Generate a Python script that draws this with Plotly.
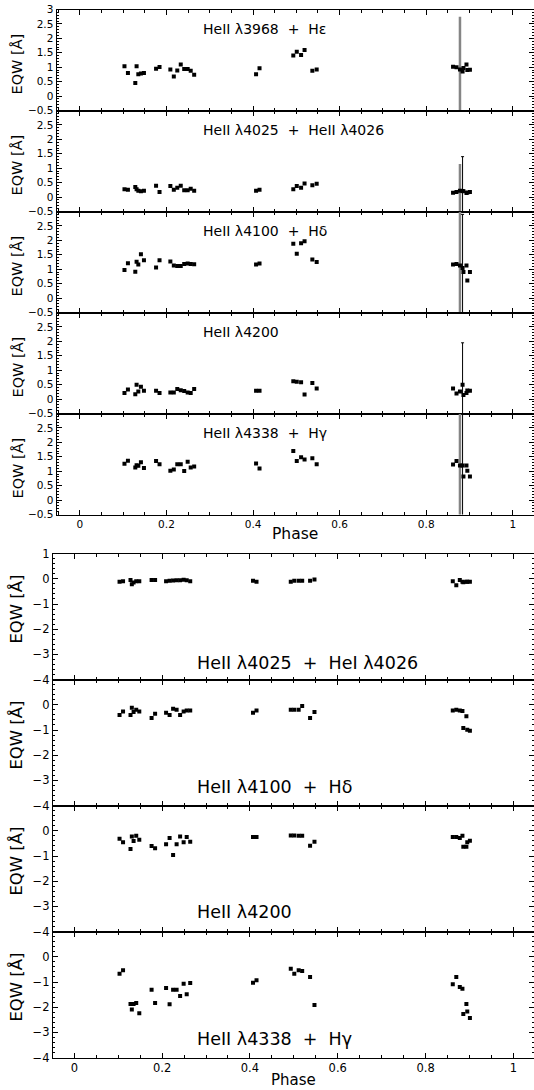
import plotly.graph_objects as go

# ---------------- data ----------------
PHASE = [0.103, 0.111, 0.128, 0.131, 0.135, 0.141, 0.148,
         0.176, 0.184,
         0.209, 0.217, 0.225, 0.233, 0.241, 0.249, 0.256, 0.264,
         0.407, 0.415,
         0.493, 0.501, 0.511, 0.519,
         0.537, 0.547,
         0.862, 0.870, 0.878, 0.884, 0.886, 0.893, 0.895, 0.901]

# upper figure (absorption EQW)
HE3968_HEPS = [1.035, 0.80, 0.45, 1.035, 0.76, 0.78, 0.80,
               0.95, 1.01,
               0.92, 0.68, 0.89, 1.09, 0.94, 0.94, 0.88, 0.74,
               0.76, 0.96,
               1.41, 1.54, 1.42, 1.60,
               0.88, 0.92,
               1.02, 1.00, 0.92, 0.85, 0.97, 1.09, 0.90, 0.91]
HE4025_HE4026 = [0.27, 0.25, 0.35, 0.27, 0.22, 0.20, 0.22,
                 0.39, 0.18,
                 0.38, 0.25, 0.32, 0.39, 0.24, 0.24, 0.29, 0.22,
                 0.22, 0.25,
                 0.27, 0.38, 0.32, 0.47,
                 0.41, 0.46,
                 0.15, 0.18, 0.22, 0.21, 0.20, 0.14, 0.16, 0.18]
HE4100_HD = [0.97, 1.21, 0.91, 1.26, 1.16, 1.52, 1.31,
             1.06, 1.31,
             1.27, 1.13, 1.11, 1.11, 1.18, 1.20, 1.18, 1.17,
             1.16, 1.20,
             1.88, 1.54, 1.90, 1.97,
             1.34, 1.25,
             1.16, 1.18, 1.13, 1.04, 0.90, 1.13, 0.61, 0.90]
HE4200 = [0.21, 0.33, 0.17, 0.50, 0.26, 0.43, 0.29,
          0.29, 0.21,
          0.23, 0.23, 0.35, 0.31, 0.28, 0.23, 0.21, 0.35,
          0.29, 0.29,
          0.62, 0.60, 0.58, 0.16,
          0.56, 0.37,
          0.37, 0.19, 0.26, 0.50, 0.14, 0.21, 0.30, 0.29]
HE4338_HG = [1.26, 1.36, 1.13, 1.21, 1.19, 1.31, 1.11,
             1.35, 1.24,
             1.02, 1.06, 1.24, 1.24, 1.01, 1.33, 1.13, 1.16,
             1.27, 1.09,
             1.70, 1.35, 1.48, 1.41,
             1.45, 1.24,
             1.23, 1.35, 1.20, 1.20, 0.82, 1.20, 1.02, 0.82]

# error bars (upper figure): index of point, error size
GRAY_ERR_IDX = 27
GRAY_ERR = [1.83, 0.93, 3.0, None, 3.0]
BLACK_ERR_IDX = 28
BLACK_ERR = [None, 1.19, 1.86, 1.45, 3.0]

# lower figure (emission EQW)
E4025_4026 = [-0.12, -0.10, -0.05, -0.22, -0.15, -0.10, -0.10,
              -0.05, -0.05,
              -0.10, -0.08, -0.07, -0.06, -0.06, -0.04, -0.06, -0.10,
              -0.08, -0.12,
              -0.12, -0.08, -0.08, -0.08,
              -0.08, -0.03,
              -0.10, -0.26, -0.05, -0.12, -0.14, -0.12, -0.12, -0.12]
E4100_HD = [-0.40, -0.27, -0.40, -0.12, -0.29, -0.20, -0.27,
            -0.52, -0.36,
            -0.32, -0.40, -0.16, -0.20, -0.40, -0.27, -0.23, -0.23,
            -0.32, -0.23,
            -0.20, -0.20, -0.20, -0.05,
            -0.52, -0.29,
            -0.23, -0.20, -0.23, -0.25, -0.92, -0.45, -0.99, -1.03]
E4200 = [-0.32, -0.45, -0.72, -0.23, -0.40, -0.20, -0.36,
         -0.60, -0.69,
         -0.53, -0.29, -0.96, -0.53, -0.23, -0.45, -0.25, -0.43,
         -0.25, -0.25,
         -0.19, -0.19, -0.20, -0.20,
         -0.59, -0.43,
         -0.25, -0.25, -0.29, -0.20, -0.63, -0.63, -0.45, -0.39]
E4338_HG = [-0.67, -0.53, -1.87, -2.09, -1.87, -1.83, -2.24,
            -1.31, -1.83,
            -1.24, -1.88, -1.31, -1.31, -1.56, -1.07, -1.49, -1.04,
            -1.03, -0.93,
            -0.47, -0.67, -0.53, -0.56,
            -0.80, -1.91,
            -1.09, -0.80, -1.20, -1.27, -2.27, -1.87, -2.17, -2.43]

NB = "\u00a0"
TOP_LABELS = ["HeII λ3968" + NB * 2 + "+" + NB * 2 + "Hε",
              "HeII λ4025" + NB * 2 + "+" + NB * 2 + "HeII λ4026",
              "HeII λ4100" + NB * 2 + "+" + NB * 2 + "Hδ",
              "HeII λ4200",
              "HeII λ4338" + NB * 2 + "+" + NB * 2 + "Hγ"]
BOT_LABELS = ["HeII λ4025" + NB * 2 + "+" + NB * 2 + "HeI λ4026",
              "HeII λ4100" + NB * 2 + "+" + NB * 2 + "Hδ",
              "HeII λ4200",
              "HeII λ4338" + NB * 2 + "+" + NB * 2 + "Hγ"]

TOP_SERIES = [HE3968_HEPS, HE4025_HE4026, HE4100_HD, HE4200, HE4338_HG]
BOT_SERIES = [E4025_4026, E4100_HD, E4200, E4338_HG]

X_TICKS = [0, 0.2, 0.4, 0.6, 0.8, 1]
X_TICKTEXT = ["0", "0.2", "0.4", "0.6", "0.8", "1"]
TOP_Y_TICKS = [-0.5, 0, 0.5, 1, 1.5, 2, 2.5, 3]
TOP_Y_TEXT = ["−0.5", "0", "0.5", "1", "1.5", "2", "2.5", "3"]
BOT_Y_TICKS = [-4, -3, -2, -1, 0, 1]
BOT_Y_TEXT = ["−4", "−3", "−2", "−1", "0", "1"]

# ---------------- layout geometry ----------------
W, H = 534, 1090
FONT = "DejaVu Sans"


def py(px):
    return 1 - px / H


fig = go.Figure()
layout = dict(template="none", width=W, height=H, margin=dict(l=0, r=0, t=0, b=0, pad=0),
              paper_bgcolor="white", plot_bgcolor="white", showlegend=False,
              font=dict(family=FONT, color="black"))
annotations = []

TOP_X_DOM = [56.5 / W, 1.0]
TOP_X_RANGE = [-0.054, 1.049]
BOT_X_DOM = [52.8 / W, 1.0]
BOT_X_RANGE = [-0.049, 1.047]


def add_axes(n, xdom, xrange, ydom, yrange, yticks, ytext, ydminor, show_x, fs):
    xa = dict(domain=xdom, range=xrange, anchor="y%d" % n, showgrid=False, zeroline=False,
              automargin=False,
              showline=True, linecolor="black", linewidth=1, mirror="ticks",
              ticks="inside", ticklen=5, tickwidth=1, tickcolor="black",
              tickvals=X_TICKS, ticktext=X_TICKTEXT, showticklabels=show_x,
              tickfont=dict(family=FONT, size=fs, color="black"),
              minor=dict(dtick=0.05, tick0=0, ticks="inside", ticklen=3, tickcolor="black", showgrid=False))
    ya = dict(domain=ydom, range=yrange, anchor="x%d" % n, showgrid=False, zeroline=False,
              automargin=False,
              showline=True, linecolor="black", linewidth=1, mirror="ticks",
              ticks="inside", ticklen=5, tickwidth=1, tickcolor="black",
              tickvals=yticks, ticktext=ytext,
              tickfont=dict(family=FONT, size=fs, color="black"),
              minor=dict(dtick=ydminor, tick0=0, ticks="inside", ticklen=2.5, tickcolor="black", showgrid=False))
    sfx = "" if n == 1 else str(n)
    layout["xaxis" + sfx] = xa
    layout["yaxis" + sfx] = ya


# upper figure
TOP_Y0 = 9.5
TOP_H = 101.0
for k, series in enumerate(TOP_SERIES):
    n = k + 1
    top = TOP_Y0 + TOP_H * k
    bot = top + TOP_H
    ticks = TOP_Y_TICKS if k == 0 else TOP_Y_TICKS[:-1]
    text = TOP_Y_TEXT if k == 0 else TOP_Y_TEXT[:-1]
    add_axes(n, TOP_X_DOM, TOP_X_RANGE, [py(bot), py(top)], [-0.5, 3.0], ticks, text, 0.1,
             k == len(TOP_SERIES) - 1, 10.5)
    xr, yr = "x%d" % n, "y%d" % n
    # error bars
    if GRAY_ERR[k] is not None:
        fig.add_trace(go.Scatter(x=[PHASE[GRAY_ERR_IDX]], y=[series[GRAY_ERR_IDX]], xaxis=xr, yaxis=yr,
                                 mode="markers", marker=dict(size=1, opacity=0),
                                 error_y=dict(type="data", array=[GRAY_ERR[k]], color="#858585",
                                              thickness=2.5, width=0)))
    if BLACK_ERR[k] is not None:
        fig.add_trace(go.Scatter(x=[PHASE[BLACK_ERR_IDX]], y=[series[BLACK_ERR_IDX]], xaxis=xr, yaxis=yr,
                                 mode="markers", marker=dict(size=1, opacity=0),
                                 error_y=dict(type="data", array=[BLACK_ERR[k]], color="black",
                                              thickness=1, width=1.5)))
    fig.add_trace(go.Scatter(x=PHASE, y=series, xaxis=xr, yaxis=yr, mode="markers",
                             marker=dict(symbol="square", size=4, color="black", line=dict(width=0))))
    annotations.append(dict(x=0.28, y=2.33, xref=xr, yref=yr, text=TOP_LABELS[k], showarrow=False,
                            xanchor="left", yanchor="middle", font=dict(family=FONT, size=14, color="black")))
    annotations.append(dict(x=17 / W, y=py((top + bot) / 2 + 4.5), xref="paper", yref="paper",
                            text="EQW [Å]", textangle=-90, showarrow=False, xanchor="center",
                            yanchor="middle", font=dict(family=FONT, size=14.5, color="black")))

annotations.append(dict(x=(TOP_X_DOM[0] + TOP_X_DOM[1]) / 2, y=py(534), xref="paper", yref="paper",
                        text="Phase", showarrow=False, xanchor="center", yanchor="middle",
                        font=dict(family=FONT, size=15.5, color="black")))

# lower figure
BOT_Y0 = 553.6
BOT_H = 126.0
BOT_LABEL_Y = [-3.35, -3.28, -3.24, -3.26]
for k, series in enumerate(BOT_SERIES):
    n = len(TOP_SERIES) + k + 1
    top = BOT_Y0 + BOT_H * k
    bot = top + BOT_H
    ticks = BOT_Y_TICKS if k == 0 else BOT_Y_TICKS[:-1]
    text = BOT_Y_TEXT if k == 0 else BOT_Y_TEXT[:-1]
    add_axes(n, BOT_X_DOM, BOT_X_RANGE, [py(bot), py(top)], [-4.0, 1.0], ticks, text, 0.2,
             k == len(BOT_SERIES) - 1, 11.5)
    xr, yr = "x%d" % n, "y%d" % n
    fig.add_trace(go.Scatter(x=PHASE, y=series, xaxis=xr, yaxis=yr, mode="markers",
                             marker=dict(symbol="square", size=4, color="black", line=dict(width=0))))
    annotations.append(dict(x=0.275, y=BOT_LABEL_Y[k], xref=xr, yref=yr, text=BOT_LABELS[k], showarrow=False,
                            xanchor="left", yanchor="middle", font=dict(family=FONT, size=17.5, color="black")))
    annotations.append(dict(x=17 / W, y=py((top + bot) / 2 - 7), xref="paper", yref="paper",
                            text="EQW [Å]", textangle=-90, showarrow=False, xanchor="center",
                            yanchor="middle", font=dict(family=FONT, size=16.5, color="black")))

annotations.append(dict(x=(BOT_X_DOM[0] + BOT_X_DOM[1]) / 2, y=py(1080), xref="paper", yref="paper",
                        text="Phase", showarrow=False, xanchor="center", yanchor="middle",
                        font=dict(family=FONT, size=15, color="black")))

layout["annotations"] = annotations
fig.update_layout(**layout)
fig.write_html("out.html", config={"displayModeBar": False},
               post_script="document.body.style.margin='0';document.body.style.overflow='hidden';")
